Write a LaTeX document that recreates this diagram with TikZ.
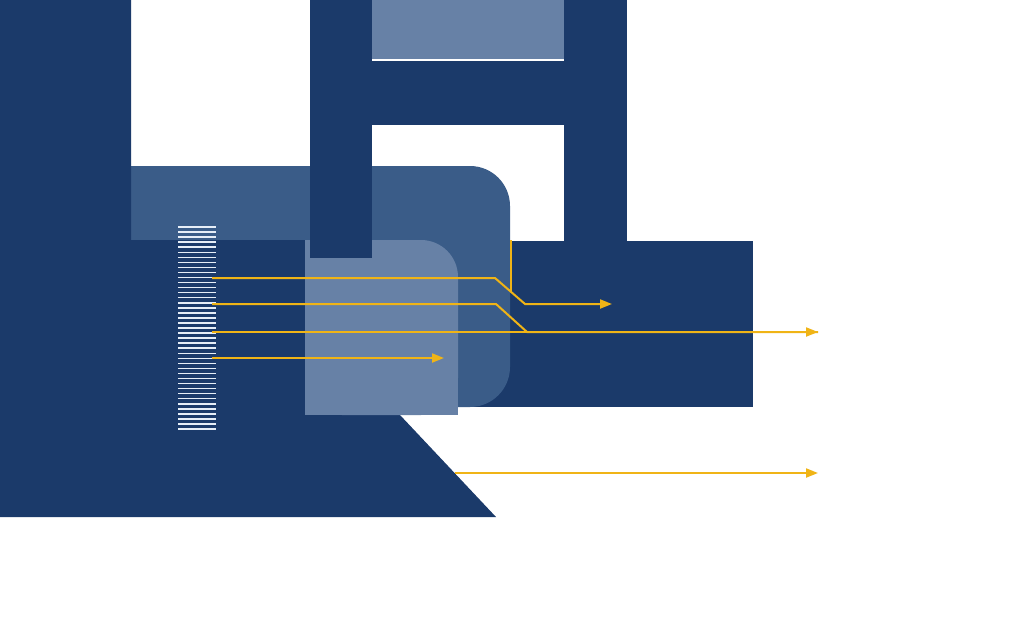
\documentclass[tikz,border=0pt]{standalone}
\usetikzlibrary{arrows.meta}
\definecolor{navy}{HTML}{1B3A6A}
\definecolor{midblue}{HTML}{3A5C88}
\definecolor{lightblue}{HTML}{6781A6}
\definecolor{gold}{HTML}{F0B416}
\definecolor{hatch}{HTML}{E6EEF8}
\begin{document}
\begin{tikzpicture}[x=1pt,y=-1pt,
  wire/.style={draw=gold,line width=2pt},
  arr/.style={wire,-{Triangle[length=12pt,width=9pt]}},
  hatchline/.style={draw=hatch,line width=1.5pt}]
\fill[white] (0,0) rectangle (1024,640);
\useasboundingbox (0,0) rectangle (1024,640);
% dark block on the right (behind the medium shape)
\fill[navy] (470,241) rectangle (753,407);
\fill[navy] (564,0) rectangle (627,242);
% medium rounded shape
\fill[midblue, rounded corners=40pt] (131,166) rectangle (510,407);
\fill[midblue] (131,166) rectangle (300,407);
% dark left polygon
\fill[navy] (0,0) -- (131,0) -- (131,240) -- (400,240) -- (400,415) -- (496,517) -- (0,517) -- cycle;
% light rounded rectangle
\fill[lightblue, rounded corners=37pt] (305,240) rectangle (458,415);
\fill[lightblue] (305,240) rectangle (400,415);
\fill[lightblue] (305,300) rectangle (458,415);
% H structure
\fill[navy] (310,0) rectangle (372,258);
\fill[navy] (310,61) rectangle (627,125);
\fill[lightblue] (372,0) rectangle (564,59);
\draw[white,line width=1.5pt] (372,60) -- (564,60);
% hatching
\foreach \i in {0,...,40} {
  \draw[hatchline] (178,{227+5.05*\i}) -- (216,{227+5.05*\i});
}
% yellow connectors
\coordinate (a1) at (212,278);
\coordinate (b1) at (495,278);
\coordinate (c1) at (525,304);
\coordinate (e1) at (612,304);
\coordinate (a2) at (212,304);
\coordinate (b2) at (496,304);
\coordinate (c2) at (527,332);
\coordinate (e2) at (818,332);
\coordinate (a3) at (212,332);
\coordinate (a4) at (212,358);
\coordinate (e4) at (444,358);
\coordinate (v1) at (511,240);
\coordinate (v2) at (511,291);
\coordinate (a5) at (455,473);
\coordinate (e5) at (818,473);
\draw[arr] (a1) -- (b1) -- (c1) -- (e1);
\draw[wire] (a2) -- (b2) -- (c2) -- (e2);
\draw[arr] (a3) -- (e2);
\draw[arr] (a4) -- (e4);
\draw[wire,line width=1.5pt] (v1) -- (v2);
\draw[arr] (a5) -- (e5);
\end{tikzpicture}
\end{document}
